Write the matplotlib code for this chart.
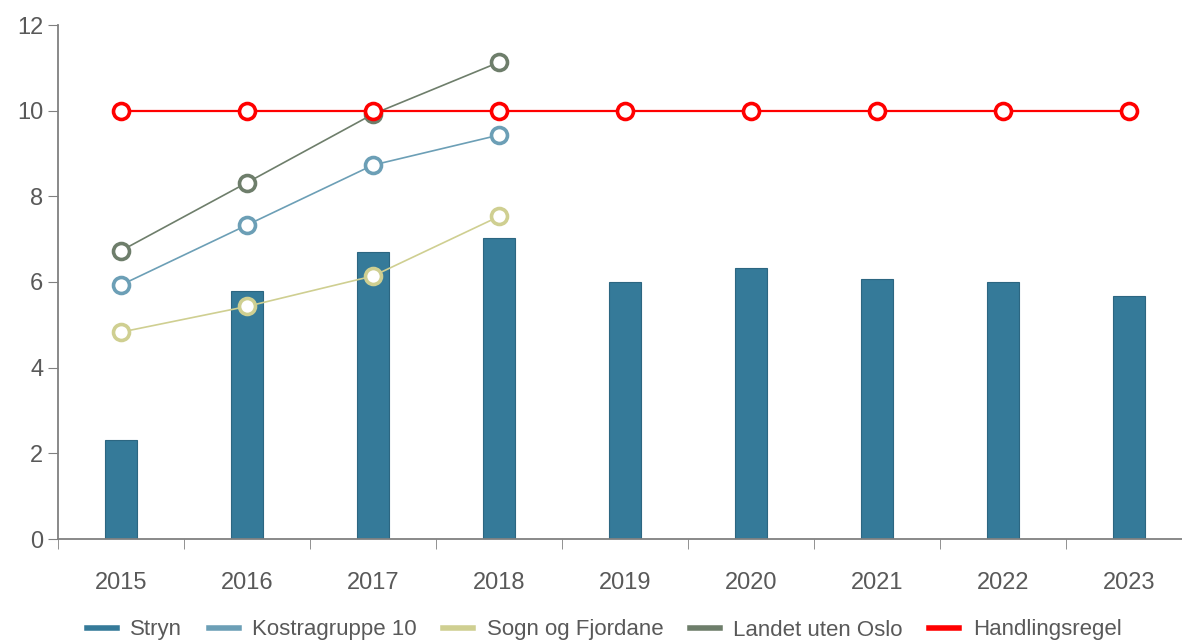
import numpy as np
import matplotlib
matplotlib.use("Agg")
import matplotlib.pyplot as plt

plt.rcParams['font.family'] = ['Liberation Sans', 'DejaVu Sans']

years = ["2015", "2016", "2017", "2018", "2019", "2020", "2021", "2022", "2023"]
stryn = [2.3, 5.8, 6.7, 7.02, 6.0, 6.32, 6.08, 6.0, 5.67]
kostra = [5.93, 7.33, 8.73, 9.43]
sogn = [4.83, 5.43, 6.14, 7.53]
landet = [6.73, 8.32, 9.92, 11.13]
regel = [10, 10, 10, 10, 10, 10, 10, 10, 10]

fig = plt.figure(figsize=(11.82, 6.44), dpi=100)
ax = fig.add_axes([58/1182, 105/644, 1 - 58/1182, (539-25)/644])

x = np.arange(len(years))
ax.bar(x, stryn, width=0.26, color="#357a99", edgecolor="#2c6681", linewidth=0.8,
       label="Stryn", zorder=2)

def serie(vals, col, navn, lw=1.2):
    ax.plot(x[:len(vals)], vals, color=col, lw=lw, marker="o", ms=11.5,
            mfc="white", mec=col, mew=2.6, label=navn, zorder=3)

serie(kostra, "#6c9fb6", "Kostragruppe 10")
serie(sogn, "#cfcf91", "Sogn og Fjordane")
serie(landet, "#6e7e6b", "Landet uten Oslo")
serie(regel, "#ff0000", "Handlingsregel", lw=1.6)

ax.set_yticks(range(0, 13, 2))
ax.set_xticks(x)
ax.set_xticklabels(years)
ax.set_xticks(np.arange(-0.5, 9, 1), minor=True)
ax.set_ylim(0, 12)
ax.set_xlim(-0.5, (1182-58)/126 - 0.5)
ax.tick_params(axis="x", which="major", length=0, pad=24)
ax.tick_params(axis="x", which="minor", length=7, direction="out", color="#808080")
ax.tick_params(axis="y", length=7, color="#808080", pad=3.5)
ax.tick_params(labelsize=17, labelcolor="#595959")

for s in ["top", "right"]:
    ax.spines[s].set_visible(False)
for s in ["left", "bottom"]:
    ax.spines[s].set_color("#808080")
    ax.spines[s].set_linewidth(1.3)

handles = [plt.Line2D([], [], color=c, lw=4) for c in
           ["#357a99", "#6c9fb6", "#cfcf91", "#6e7e6b", "#ff0000"]]
names = ["Stryn", "Kostragruppe 10", "Sogn og Fjordane", "Landet uten Oslo", "Handlingsregel"]
leg = fig.legend(handles, names, loc="center", bbox_to_anchor=(604/1182, 14/644), ncol=5,
                 frameon=False, fontsize=16, handlelength=1.35, handletextpad=0.6,
                 columnspacing=1.2, borderpad=0)
for t in leg.get_texts():
    t.set_color("#595959")

fig.savefig("out.png", dpi=100)
